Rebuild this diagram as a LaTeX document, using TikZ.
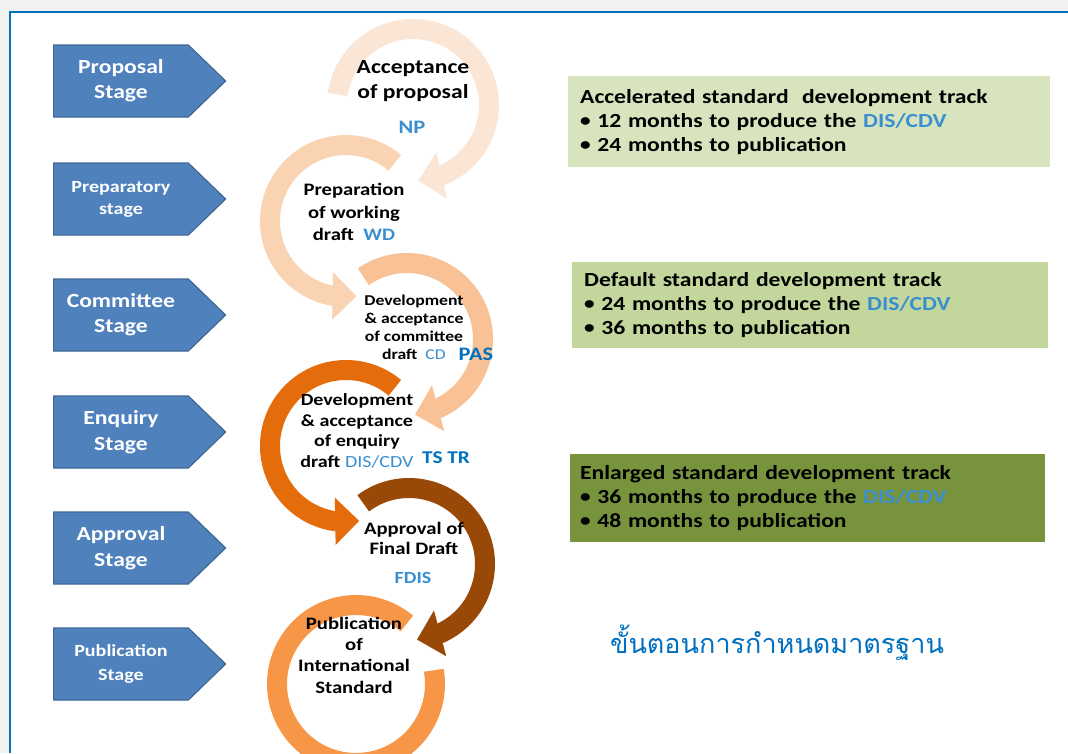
\documentclass[tikz,border=0pt]{standalone}
\usepackage{fontspec}
\setmainfont{Carlito}[FakeStretch=1.18]
\newfontfamily\thaifont[Script=Thai]{Loma}
\usetikzlibrary{arrows.meta,bending,shapes.symbols}

\definecolor{stageblue}{HTML}{4F81BD}
\definecolor{stageline}{HTML}{3F6894}
\definecolor{arcA}{HTML}{FBE5D4}
\definecolor{arcB}{HTML}{F9D3B2}
\definecolor{arcC}{HTML}{F8C196}
\definecolor{arcD}{HTML}{E46C0A}
\definecolor{arcE}{HTML}{984807}
\definecolor{arcF}{HTML}{F79646}
\definecolor{trackA}{HTML}{D7E4BD}
\definecolor{trackB}{HTML}{C3D69B}
\definecolor{trackC}{HTML}{77933C}
\definecolor{codeblue}{HTML}{3A8FD0}
\definecolor{deepblue}{HTML}{0070C0}
\definecolor{framegray}{HTML}{F2F2F2}

\newcommand{\boldat}[2]{\bfseries\fontsize{#1}{#2}\selectfont}
\newcommand{\trackdot}{\raisebox{0.8pt}{\fontsize{18}{18}\selectfont\textbullet}\ }

\begin{document}
\begin{tikzpicture}
    [x=1pt, y=-1pt,
     stage/.style={signal, signal to=east, signal pointer angle=88, fill=stageblue, draw=stageline, line width=1.2pt, minimum width=172pt, minimum height=72pt, inner sep=0pt, text=white, align=center},
     phase/.style={align=center, inner sep=0pt, text=black},
     code/.style={inner sep=0pt, text=codeblue, font=\boldat{16}{19}},
     extra/.style={inner sep=0pt, text=deepblue, font=\boldat{19}{22}},
     band/.style={line width=20pt},
     head/.style={-{Triangle[width=46pt,length=24pt]}},
     trackbox/.style={anchor=north west, inner xsep=12pt, inner ysep=0pt, align=left, text=black, font=\boldat{20}{24}}]
    \useasboundingbox (0,0) rectangle (1068,753);
    \clip (0,0) rectangle (1068,753);
    % frame
    \fill[framegray] (0,0) rectangle (1068,753);
    \fill[white] (10,12) rectangle (1068,753);
    \draw[deepblue, line width=2.5pt] (10,753) -- (10,12) -- (1068,12);

    % stages
    \node[stage, anchor=west, font=\boldat{20}{25}] (proposal) at (53,81) {Proposal\\Stage};
    \node[stage, anchor=west, font=\boldat{17}{22}] (preparatory) at (53,199) {Preparatory\\stage};
    \node[stage, anchor=west, font=\boldat{20}{25}] (committee) at (53,315) {Committee\\Stage};
    \node[stage, anchor=west, font=\boldat{20}{26}] (enquiry) at (53,432) {Enquiry\\Stage};
    \node[stage, anchor=west, font=\boldat{20}{26}] (approval) at (53,548) {Approval\\Stage};
    \node[stage, anchor=west, font=\boldat{17}{24}] (publication) at (53,664) {Publication\\Stage};

    % circular arrows
    \coordinate (c1) at (413,105);
    \coordinate (c2) at (346,221);
    \coordinate (c3) at (407,339);
    \coordinate (c4) at (346,446);
    \coordinate (c5) at (409,564);
    \coordinate (c6) at (356,684);
    \draw[band, arcA, head] (c1) ++(-172:76) arc[start angle=-172, end angle=86, radius=76];
    \draw[band, arcB, head] (c2) ++(-50:76) arc[start angle=-50, end angle=-278, radius=76];
    \draw[band, arcC, head] (c3) ++(-125:76) arc[start angle=-125, end angle=84, radius=76];
    \draw[band, arcD, head] (c4) ++(-50:76) arc[start angle=-50, end angle=-280, radius=76];
    \draw[band, arcE, head] (c5) ++(-127:76) arc[start angle=-127, end angle=84, radius=76];
    \draw[band, arcF] (c6) ++(-50:79) arc[start angle=-50, end angle=-370, radius=79];

    % steps
    \node[phase, font=\boldat{20}{25}] (accept) at (413,81) {Acceptance\\of proposal};
    \node[code, font=\boldat{19}{22}] (np) at (412,127) {NP};
    \node[phase, font=\boldat{17.5}{22.5}] (prep) at (354,212) {Preparation\\of working\\draft\ \ {\color{codeblue}WD}};
    \node[phase, font=\boldat{15}{18}] (comm) at (414,327) {Development\\\& acceptance\\of committee\\draft\ \ {\mdseries\color{codeblue}CD}};
    \node[extra] (pas) at (476,354) {PAS};
    \node[phase, font=\boldat{17}{20.7}] (enq) at (357,431) {Development\\\& acceptance\\of enquiry\\draft\ {\mdseries\color{codeblue}DIS/CDV}};
    \node[extra, font=\boldat{18}{21}] (tstr) at (446,458) {TS TR};
    \node[phase, font=\boldat{17.5}{20}] (appr) at (414,538) {Approval of\\Final Draft};
    \node[code, font=\boldat{17}{20}] (fdis) at (413,578) {FDIS};
    \node[phase, font=\boldat{17.5}{21.3}] (publ) at (354,655) {Publication\\of\\International\\Standard};

    % tracks
    \node[trackbox, fill=trackA, text width=458pt, minimum height=91pt] (accel) at (568,76)
        {Accelerated standard\ \ development track\\\trackdot 12 months to produce the {\color{codeblue}DIS/CDV}\\\trackdot 24 months to publication};
    \node[trackbox, fill=trackB, text width=452pt, minimum height=86pt] (default) at (572,262)
        {Default standard development track\\\trackdot 24 months to produce the {\color{codeblue}DIS/CDV}\\\trackdot 36 months to publication};
    \node[trackbox, fill=trackC, text width=455pt, minimum height=88pt, inner xsep=10pt] (enlarged) at (570,454)
        {Enlarged standard development track\\\trackdot 36 months to produce the {\color{codeblue}DIS/CDV}\\\trackdot 48 months to publication};

    \node[text=deepblue, font=\thaifont\fontsize{27}{32}\selectfont] (thaititle) at (777,643) {ขั้นตอนการกำหนดมาตรฐาน};
\end{tikzpicture}
\end{document}
